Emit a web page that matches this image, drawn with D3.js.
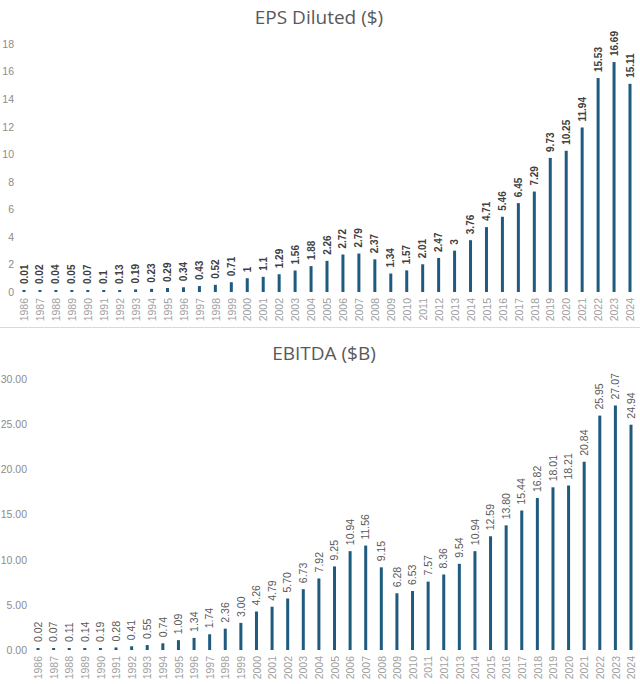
<!DOCTYPE html>
<html>
<head>
<meta charset="utf-8">
<script src="https://cdn.jsdelivr.net/npm/d3@7"></script>
<style>
  html, body { margin: 0; padding: 0; background: #fff; }
  svg { display: block; }
</style>
</head>
<body>
<svg id="chart" width="640" height="684"></svg>
<script>
const years = d3.range(1986, 2025).map(String);
const epsValues = [0.01,0.02,0.04,0.05,0.07,0.1,0.13,0.19,0.23,0.29,0.34,0.43,0.52,0.71,1,1.1,1.29,1.56,1.88,2.26,2.72,2.79,2.37,1.34,1.57,2.01,2.47,3,3.76,4.71,5.46,6.45,7.29,9.73,10.25,11.94,15.53,16.69,15.11];
const epsLabels = ["0.01","0.02","0.04","0.05","0.07","0.1","0.13","0.19","0.23","0.29","0.34","0.43","0.52","0.71","1","1.1","1.29","1.56","1.88","2.26","2.72","2.79","2.37","1.34","1.57","2.01","2.47","3","3.76","4.71","5.46","6.45","7.29","9.73","10.25","11.94","15.53","16.69","15.11"];
const ebitdaValues = [0.02,0.07,0.11,0.14,0.19,0.28,0.41,0.55,0.74,1.09,1.34,1.74,2.36,3.00,4.26,4.79,5.70,6.73,7.92,9.25,10.94,11.56,9.15,6.28,6.53,7.57,8.36,9.54,10.94,12.59,13.80,15.44,16.82,18.01,18.21,20.84,25.95,27.07,24.94];
const epsTicks = [0,2,4,6,8,10,12,14,16,18];
const ebitdaTicks = [0,5,10,15,20,25,30];

const svg = d3.select("#chart");
const barColor = "#1f5b7e";
const axisFont = "Liberation Sans, Arial, sans-serif";
const titleFont = "Open Sans, Noto Sans, sans-serif";

function panel(cfg) {
  const g = svg.append("g");
  const x = d3.scalePoint().domain(years).range(cfg.xRange);
  const y = d3.scaleLinear().domain(cfg.yDomain).range(cfg.yRange);

  g.append("text")
    .attr("x", cfg.titleX).attr("y", cfg.titleY)
    .attr("text-anchor", "middle")
    .attr("font-family", titleFont).attr("font-size", cfg.titleSize)
    .attr("fill", "#595959")
    .text(cfg.title);

  const yAxis = d3.axisLeft(y).tickValues(cfg.ticks).tickFormat(cfg.tickFormat).tickSize(0).tickPadding(0);
  const ya = g.append("g").attr("transform", `translate(${cfg.yLabelX},0)`).call(yAxis);
  ya.select(".domain").remove();
  ya.selectAll("text").attr("font-family", axisFont).attr("font-size", 10.5).attr("fill", "#8c8c8c");

  const xAxis = d3.axisBottom(x).tickSize(0).tickPadding(0);
  const xa = g.append("g").attr("transform", `translate(0,${cfg.yRange[0]})`).call(xAxis);
  xa.select(".domain").remove();
  xa.selectAll("text")
    .attr("font-family", axisFont).attr("font-size", 10.5).attr("fill", "#a0a0a0")
    .attr("transform", "rotate(-90)")
    .attr("text-anchor", "end")
    .attr("dy", "0.35em")
    .attr("x", -6).attr("y", 0);

  const data = years.map((yr, i) => ({ yr, v: cfg.values[i], lab: cfg.labels[i] }));
  const bw = 3;
  g.selectAll("rect.bar").data(data).join("rect")
    .attr("class", "bar")
    .attr("x", d => x(d.yr) - bw / 2)
    .attr("width", bw)
    .attr("y", d => Math.min(y(d.v), y(0) - 2))
    .attr("height", d => Math.max(y(0) - y(d.v), 2))
    .attr("fill", barColor);

  g.selectAll("text.val").data(data).join("text")
    .attr("class", "val")
    .attr("transform", d => `translate(${x(d.yr)},${Math.min(y(d.v), y(0) - 2) - 6}) rotate(-90)`)
    .attr("dy", "0.35em")
    .attr("font-family", axisFont).attr("font-size", cfg.valSize)
    .attr("font-weight", cfg.valBold ? "bold" : "normal")
    .attr("fill", cfg.valColor)
    .text(d => d.lab);
}

panel({
  title: "EPS Diluted ($)", titleX: 319, titleY: 24, titleSize: 19,
  xRange: [24, 630], yDomain: [0, 18], yRange: [292, 44],
  ticks: epsTicks, tickFormat: d3.format("d"), yLabelX: 14,
  values: epsValues, labels: epsLabels,
  valSize: 10, valBold: true, valColor: "#404040"
});

svg.append("line")
  .attr("x1", 0).attr("x2", 640).attr("y1", 327.5).attr("y2", 327.5)
  .attr("stroke", "#d9d9d9").attr("stroke-width", 1);

panel({
  title: "EBITDA ($B)", titleX: 324, titleY: 360, titleSize: 19,
  xRange: [38, 631], yDomain: [0, 30], yRange: [650, 379],
  ticks: ebitdaTicks, tickFormat: d3.format(".2f"), yLabelX: 27,
  values: ebitdaValues, labels: ebitdaValues.map(d3.format(".2f")),
  valSize: 10.5, valBold: false, valColor: "#595959"
});
</script>
</body>
</html>
